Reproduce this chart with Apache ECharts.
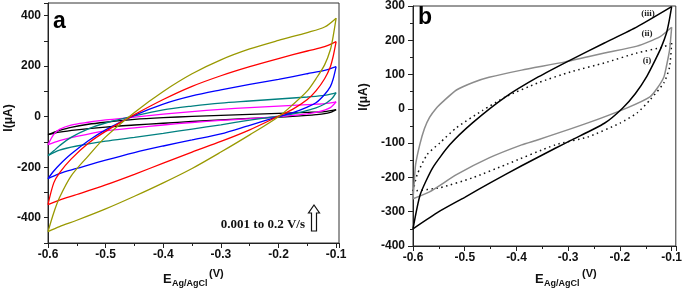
<!DOCTYPE html>
<html>
<head>
<meta charset="utf-8">
<script src="https://cdn.jsdelivr.net/npm/echarts@6/dist/echarts.min.js"></script>
<style>
html,body{margin:0;padding:0;background:#fff}
#c{width:685px;height:290px}
</style>
</head>
<body>
<div id="c"></div>
<script>
// panel a: potentials (V) of the forward scan and of the return scan
const aFwdE = [-0.6, -0.59, -0.58, -0.56, -0.53, -0.5, -0.45, -0.4, -0.35, -0.3, -0.25, -0.2, -0.15, -0.12, -0.1];
const aRevE = [-0.1, -0.105, -0.11, -0.12, -0.135, -0.15, -0.175, -0.2, -0.25, -0.3, -0.35, -0.4, -0.45, -0.5, -0.55, -0.58, -0.6];
// currents (uA), scan rate 0.001 -> 0.2 V/s
const blackFwd   = [-71, -62, -54, -42, -30, -22, -11, -4, 1, 5, 9, 13, 17, 20, 28];
const blackRev   = [28, 22, 17, 12, 8, 5, 1, -2, -7, -13, -19, -26, -33, -41, -52, -61, -71];
const magentaFwd = [-111, -70, -50, -33, -22, -13, -2, 10, 20, 29, 36, 42, 48, 52, 59];
const magentaRev = [59, 46, 36, 26, 17, 11, 5, 0, -8, -15, -23, -33, -44, -56, -78, -95, -111];
const tealFwd    = [-154, -135, -115, -82, -48, -25, 3, 27, 42, 54, 62, 70, 78, 84, 95];
const tealRev    = [95, 78, 66, 50, 35, 25, 11, 2, -14, -32, -49, -66, -82, -97, -116, -132, -154];
const blueFwd    = [-245, -215, -190, -148, -95, -52, 5, 50, 82, 106, 128, 148, 170, 183, 198];
const blueRev    = [198, 150, 119, 88, 55, 38, 16, 0, -34, -68, -92, -116, -142, -172, -205, -225, -245];
const redFwd     = [-348, -262, -222, -168, -105, -58, 8, 68, 120, 162, 198, 230, 260, 277, 297];
const redRev     = [297, 240, 198, 150, 102, 68, 30, 2, -52, -98, -140, -184, -228, -270, -308, -330, -348];
const oliveFwd   = [-455, -380, -320, -235, -155, -80, 17, 100, 170, 225, 268, 302, 333, 355, 390];
const oliveRev   = [390, 320, 265, 205, 150, 102, 48, 0, -72, -140, -205, -262, -315, -365, -410, -435, -455];

// panel b: [E (V), I (uA)] forward scan then back; (i) dotted, (ii) grey, (iii) black
const bI = [[-0.6,-240],[-0.592,-192],[-0.573,-134],[-0.548,-99],[-0.516,-55],[-0.466,-5],[-0.421,35],[-0.358,76],[-0.295,108],[-0.23,134],[-0.167,163],[-0.115,181],[-0.1,192],
  [-0.104,122],[-0.115,76],[-0.142,26],[-0.167,-12],[-0.199,-41],[-0.262,-82],[-0.325,-105],[-0.421,-163],[-0.485,-201],[-0.548,-230],[-0.6,-240]];
const bII = [[-0.6,-262],[-0.598,-222],[-0.595,-163],[-0.587,-105],[-0.578,-58],[-0.568,-25],[-0.555,2],[-0.54,24],[-0.516,55],[-0.484,77],[-0.453,92],[-0.39,113],[-0.306,137],[-0.23,163],[-0.167,183],[-0.123,210],[-0.1,238],
  [-0.104,172],[-0.11,125],[-0.115,93],[-0.128,60],[-0.142,35],[-0.186,3],[-0.262,-41],[-0.358,-90],[-0.39,-105],[-0.453,-143],[-0.516,-192],[-0.568,-242],[-0.6,-262]];
const bIII = [[-0.6,-350],[-0.586,-250],[-0.562,-172],[-0.529,-105],[-0.485,-41],[-0.421,35],[-0.358,93],[-0.295,143],[-0.23,192],[-0.167,239],[-0.1,298],
  [-0.105,255],[-0.11,221],[-0.12,180],[-0.13,148],[-0.148,95],[-0.17,45],[-0.195,2],[-0.23,-42],[-0.295,-92],[-0.325,-115],[-0.39,-166],[-0.45,-215],[-0.5,-258],[-0.55,-300],[-0.6,-350]];

const chart = echarts.init(document.getElementById('c'));

const zip = (xs, ys) => xs.map((x, i) => [x, ys[i]]);

// split a loop at its most anodic point so the turn stays sharp
function halves(pts) {
  let k = 0;
  pts.forEach((p, i) => { if (p[0] > pts[k][0]) k = i; });
  return [pts.slice(0, k + 1), pts.slice(k)];
}

let series = [];
function line(pts, color, idx, smooth, extra) {
  series.push({
    type: 'line',
    xAxisIndex: idx,
    yAxisIndex: idx,
    data: pts,
    smooth: smooth,
    showSymbol: false,
    silent: true,
    lineStyle: Object.assign({ color: color, width: 1.3 }, extra || {})
  });
}
function scanA(fwd, rev, color) {
  line(zip(aFwdE, fwd), color, 0, 0.3);
  line(zip(aRevE, rev), color, 0, 0.3);
}
scanA(blackFwd, blackRev, '#000000');
scanA(magentaFwd, magentaRev, '#ff00ff');
scanA(tealFwd, tealRev, '#008080');
scanA(blueFwd, blueRev, '#0000ff');
scanA(redFwd, redRev, '#ff0000');
scanA(oliveFwd, oliveRev, '#999900');

halves(bI).forEach(p => line(p, '#111111', 1, 0.2, { type: [1.5, 3.5], width: 1.5 }));
halves(bII).forEach(p => line(p, '#8c8c8c', 1, 0.2, { width: 1.5 }));
halves(bIII).forEach(p => line(p, '#000000', 1, 0.2, { width: 1.5 }));

const lbl = { color: '#111', fontFamily: 'Liberation Sans', fontWeight: 'bold', fontSize: 12 };
function xAx(idx, max) {
  return {
    gridIndex: idx, type: 'value', min: -0.6, max: max, interval: 0.1,
    axisLine: { show: true, onZero: false, lineStyle: { color: '#222' } },
    axisTick: { length: 5, lineStyle: { color: '#222' } },
    minorTick: { show: true, splitNumber: 2, length: 3, lineStyle: { color: '#222' } },
    splitLine: { show: false },
    axisLabel: Object.assign({ margin: 6, showMaxLabel: false, formatter: v => v.toFixed(1) }, lbl)
  };
}

const option = {
  animation: false,
  backgroundColor: '#fff',
  grid: [
    { left: 48, top: 3, width: 291, height: 240, show: true, borderColor: '#333', borderWidth: 1 },
    { left: 413, top: 6, width: 266, height: 240, show: true, borderColor: '#333', borderWidth: 1 }
  ],
  xAxis: [xAx(0, -0.095), xAx(1, -0.092)],
  yAxis: [
    {
      gridIndex: 0, type: 'value', min: -500, max: 450, interval: 100,
      axisLine: { show: true, onZero: false, lineStyle: { color: '#222' } },
      axisTick: { length: 4, lineStyle: { color: '#222' } },
      splitLine: { show: false },
      axisLabel: Object.assign({ margin: 7, formatter: v => (v % 200 === 0 ? String(v) : '') }, lbl)
    },
    {
      gridIndex: 1, type: 'value', min: -400, max: 300, interval: 100,
      axisLine: { show: true, onZero: false, lineStyle: { color: '#222' } },
      axisTick: { length: 5, lineStyle: { color: '#222' } },
      minorTick: { show: true, splitNumber: 2, length: 3, lineStyle: { color: '#222' } },
      splitLine: { show: false },
      axisLabel: Object.assign({ margin: 8 }, lbl)
    }
  ],
  graphic: [
    { type: 'text', left: 53, top: 10, style: { text: 'a', font: 'bold 23px "Liberation Sans"', fill: '#000' } },
    { type: 'text', left: 418, top: 6, style: { text: 'b', font: 'bold 23px "Liberation Sans"', fill: '#000' } },
    { type: 'text', x: 9, y: 118, rotation: Math.PI / 2, style: { text: 'I(μA)', font: 'bold 12px "Liberation Sans"', fill: '#111', align: 'center', verticalAlign: 'middle' } },
    { type: 'text', x: 364, y: 97, rotation: Math.PI / 2, style: { text: 'I(μA)', font: 'bold 12px "Liberation Sans"', fill: '#111', align: 'center', verticalAlign: 'middle' } },
    { type: 'text', x: 163, y: 279, style: { text: 'E', font: 'bold 13px "Liberation Sans"', fill: '#111', verticalAlign: 'middle' } },
    { type: 'text', x: 172, y: 284, style: { text: 'Ag/AgCl', font: 'bold 9px "Liberation Sans"', fill: '#111', verticalAlign: 'middle' } },
    { type: 'text', x: 209, y: 274, style: { text: '(V)', font: 'bold 11px "Liberation Sans"', fill: '#111', verticalAlign: 'middle' } },
    { type: 'text', x: 535, y: 279, style: { text: 'E', font: 'bold 13px "Liberation Sans"', fill: '#111', verticalAlign: 'middle' } },
    { type: 'text', x: 544, y: 284, style: { text: 'Ag/AgCl', font: 'bold 9px "Liberation Sans"', fill: '#111', verticalAlign: 'middle' } },
    { type: 'text', x: 582, y: 274, style: { text: '(V)', font: 'bold 11px "Liberation Sans"', fill: '#111', verticalAlign: 'middle' } },
    { type: 'text', x: 305, y: 225, style: { text: '0.001 to 0.2 V/s', font: 'bold 13px "Liberation Serif"', fill: '#111', align: 'right', verticalAlign: 'middle' } },
    { type: 'polygon', shape: { points: [[314, 205], [319.5, 213], [316.5, 213], [316.5, 231], [311.5, 231], [311.5, 213], [308.5, 213]] },
      style: { fill: '#fff', stroke: '#111', lineWidth: 1.2 } },
    { type: 'text', x: 648, y: 14, style: { text: '(iii)', font: 'bold 9px "Liberation Serif"', fill: '#222', align: 'center', verticalAlign: 'middle' } },
    { type: 'text', x: 647, y: 34, style: { text: '(ii)', font: 'bold 9px "Liberation Serif"', fill: '#222', align: 'center', verticalAlign: 'middle' } },
    { type: 'text', x: 647, y: 61, style: { text: '(i)', font: 'bold 9px "Liberation Serif"', fill: '#222', align: 'center', verticalAlign: 'middle' } }
  ],
  series: series
};
chart.setOption(option);
</script>
</body>
</html>
